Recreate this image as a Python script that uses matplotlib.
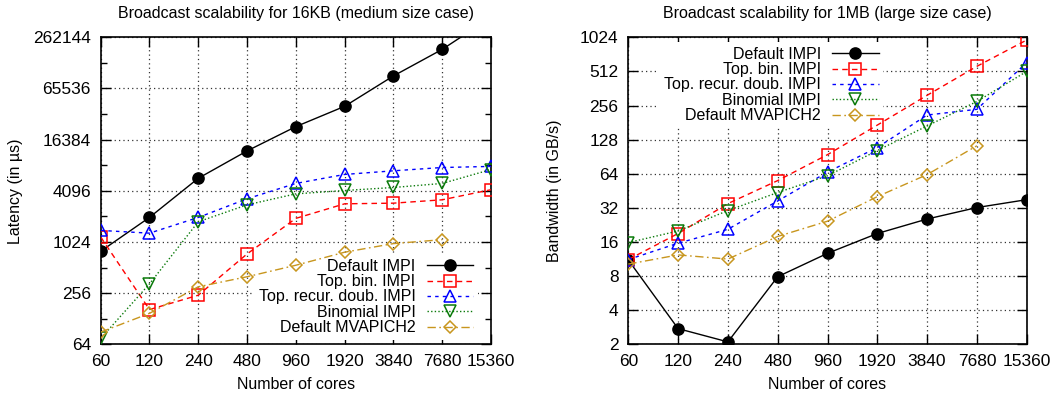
import matplotlib
matplotlib.use("Agg")
import matplotlib.pyplot as plt
from matplotlib.ticker import FixedLocator, NullLocator, NullFormatter

plt.rcParams['font.family'] = ['Liberation Sans', 'DejaVu Sans']

cores = [60, 120, 240, 480, 960, 1920, 3840, 7680, 15360]
core_labels = [str(c) for c in cores]

series_names = ["Default IMPI", "Top. bin. IMPI", "Top. recur. doub. IMPI",
                "Binomial IMPI", "Default MVAPICH2"]

# Left: latency (us) for 16KB
lat_default_impi = [796, 1993, 5750, 12070, 23300, 40400, 92000, 189000, 450000]
lat_top_bin = [1170, 164, 242, 740, 1940, 2880, 2930, 3210, 4220]
lat_top_rd = [1400, 1300, 1990, 3300, 5000, 6380, 7040, 7700, 7930]
lat_binomial = [75, 329, 1770, 2800, 3770, 4130, 4480, 5000, 7290]
lat_mvapich = [89, 148, 304, 399, 545, 776, 980, 1090]

# Right: bandwidth (GB/s) for 1MB
bw_default_impi = [11.1, 2.75, 2.1, 7.9, 12.7, 19.0, 25.5, 32.2, 37.8]
bw_top_bin = [11.2, 19.0, 34.9, 55.7, 94.3, 172, 315, 568, 969]
bw_top_rd = [11.2, 15.6, 20.7, 36.8, 66.2, 109, 211, 237, 613]
bw_binomial = [15.8, 20.0, 30.3, 43.7, 61.4, 102.6, 169, 278, 512]
bw_mvapich = [10.2, 12.3, 11.3, 17.9, 24.4, 40.2, 62.9, 113]

lat_ticks = [64, 256, 1024, 4096, 16384, 65536, 262144]
lat_minor = [128, 512, 2048, 8192, 32768, 131072]
bw_ticks = [2, 4, 8, 16, 32, 64, 128, 256, 512, 1024]

styles = [
    dict(color='black', linestyle='-', marker='o', mfc='black', mec='black'),
    dict(color='#ff0000', linestyle=(0, (4, 3)), marker='s', mfc='none', mec='#ff0000'),
    dict(color='#0000ff', linestyle=(0, (2.5, 3)), marker='^', mfc='none', mec='#0000ff'),
    dict(color='#0a7a0a', linestyle=(0, (1, 1.6)), marker='v', mfc='none', mec='#0a7a0a'),
    dict(color='#c8961e', linestyle=(0, (6, 2.5, 1.2, 2.5)), marker='D', mfc='none', mec='#c8961e'),
]
msizes = [8, 8.5, 8, 8, 6.5]

FS = 11.5
TFS = 12.5
fig = plt.figure(figsize=(10.55, 3.98), dpi=100)
axL = fig.add_axes([100.7 / 1055, 1 - 344.3 / 398, 390.3 / 1055, 307 / 398])
axR = fig.add_axes([628.3 / 1055, 1 - 344.3 / 398, 398.4 / 1055, 307 / 398])


def draw(ax, data, yticks, yminor, ylim, title, ylabel, ylabelpad, leg_anchor):
    for i, (name, vals) in enumerate(zip(series_names, data)):
        st = styles[i]
        ax.plot(cores[:len(vals)], vals, color=st['color'], linestyle=st['linestyle'],
                linewidth=1.0, marker=st['marker'], markersize=msizes[i],
                markerfacecolor=st['mfc'], markeredgecolor=st['mec'],
                markeredgewidth=1.1, label=name, zorder=3)
    ax.set_xscale('log', base=2)
    ax.set_yscale('log', base=2)
    ax.set_xlim(cores[0], cores[-1])
    ax.set_ylim(*ylim)
    ax.xaxis.set_major_locator(FixedLocator(cores))
    ax.set_xticklabels(core_labels)
    ax.xaxis.set_minor_locator(NullLocator())
    ax.yaxis.set_major_locator(FixedLocator(yticks))
    ax.set_yticklabels([str(t) for t in yticks])
    if yminor:
        ax.yaxis.set_minor_locator(FixedLocator(yminor))
    else:
        ax.yaxis.set_minor_locator(NullLocator())
    ax.yaxis.set_minor_formatter(NullFormatter())
    ax.tick_params(which='major', direction='in', length=7, width=1.0,
                   top=True, right=True, labelsize=TFS, pad=7)
    ax.tick_params(which='minor', direction='in', length=4, width=1.0,
                   top=True, right=True)
    ax.grid(True, which='major', color='0.2', linestyle=(0, (1, 2.5)), linewidth=0.9)
    ax.set_axisbelow(True)
    for s in ax.spines.values():
        s.set_linewidth(1.2)
    ax.set_title(title, fontsize=FS, pad=14)
    ax.set_xlabel("Number of cores", fontsize=FS, labelpad=6)
    ax.set_ylabel(ylabel, fontsize=FS, labelpad=ylabelpad)
    leg = ax.legend(loc='center right', bbox_to_anchor=leg_anchor, markerfirst=False,
                    fontsize=FS, frameon=True, facecolor='white', edgecolor='none',
                    framealpha=1.0, fancybox=False, borderpad=0.3, borderaxespad=0,
                    handlelength=2.9, handletextpad=0.7, labelspacing=0.02)
    leg.set_zorder(2.5)


draw(axL, [lat_default_impi, lat_top_bin, lat_top_rd, lat_binomial, lat_mvapich],
     lat_ticks, lat_minor, (64, 262144),
     "Broadcast scalability for 16KB (medium size case)", "Latency (in µs)", 7,
     ((473 + 4.8 - 100.7) / 390.3, (344.3 - 297) / 307))
draw(axR, [bw_default_impi, bw_top_bin, bw_top_rd, bw_binomial, bw_mvapich],
     bw_ticks, None, (2, 1024),
     "Broadcast scalability for 1MB (large size case)", "Bandwidth (in GB/s)", 13,
     ((878.5 + 4.8 - 628.3) / 398.4, (344.3 - 85) / 307))

fig.savefig("out.png", dpi=100)
